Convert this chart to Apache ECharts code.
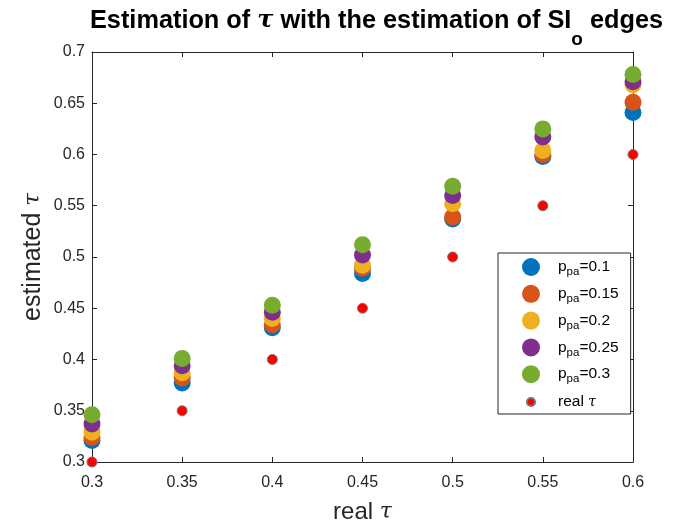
<!DOCTYPE html>
<html>
<head>
<meta charset="utf-8">
<script src="https://cdn.jsdelivr.net/npm/echarts@6/dist/echarts.min.js"></script>
<style>
  html, body { margin: 0; padding: 0; background: #fff; }
  #chart { width: 700px; height: 525px; }
</style>
</head>
<body>
<div id="chart"></div>
<script>
// real tau on the x axis
var realTau = [0.3, 0.35, 0.4, 0.45, 0.5, 0.55, 0.6];
// estimated tau, one list per p_pa
var ppa01  = [0.321, 0.377, 0.431, 0.484, 0.537, 0.598, 0.641];
var ppa015 = [0.324, 0.382, 0.434, 0.489, 0.539, 0.600, 0.651];
var ppa02  = [0.329, 0.387, 0.440, 0.492, 0.552, 0.604, 0.668];
var ppa025 = [0.337, 0.394, 0.446, 0.502, 0.560, 0.617, 0.671];
var ppa03  = [0.346, 0.401, 0.453, 0.512, 0.569, 0.625, 0.678];
var ppaLabels = ['0.1', '0.15', '0.2', '0.25', '0.3'];
var xTicks = [0.3, 0.35, 0.4, 0.45, 0.5, 0.55, 0.6];
var yTicks = [0.3, 0.35, 0.4, 0.45, 0.5, 0.55, 0.6, 0.65, 0.7];

var colors = ['#0072BD', '#D95319', '#EDB120', '#7E2F8E', '#77AC30'];
var axisColor = '#262626';
var tauFont = 'DejaVu Serif';

function pairs(xs, ys) {
    var out = [];
    for (var i = 0; i < xs.length; i++) {
        out.push([xs[i], ys[i]]);
    }
    return out;
}

var estimates = [ppa01, ppa015, ppa02, ppa025, ppa03];
var series = [];
for (var k = 0; k < estimates.length; k++) {
    series.push({
        name: 'p_pa=' + ppaLabels[k],
        type: 'scatter',
        symbol: 'circle',
        symbolSize: 17,
        itemStyle: { color: colors[k], opacity: 1 },
        data: pairs(realTau, estimates[k]),
        z: 2 + k
    });
}
series.push({
    name: 'real tau',
    type: 'scatter',
    symbol: 'circle',
    symbolSize: 10,
    itemStyle: { color: '#ff0000', borderColor: '#777777', borderWidth: 1, opacity: 1 },
    data: pairs(realTau, realTau),
    z: 10
});

// small circle inside a square box, so the legend draws it smaller
var smallDot = 'path://M0,0M40,40M20,11A9,9,0,1,1,19.99,11Z';

var legendData = [];
for (var j = 0; j < ppaLabels.length; j++) {
    legendData.push({ name: 'p_pa=' + ppaLabels[j], icon: 'circle' });
}
legendData.push({ name: 'real tau', icon: smallDot });

function baseAxis(pos, min, max, interval) {
    return {
        type: 'value',
        position: pos,
        min: min,
        max: max,
        interval: interval,
        axisLine: { show: true, onZero: false, lineStyle: { color: axisColor, width: 1 } },
        axisTick: { show: true, inside: true, length: 5, lineStyle: { color: axisColor } },
        splitLine: { show: false },
        axisLabel: { show: false }
    };
}

var xBottom = baseAxis('bottom', xTicks[0], xTicks[xTicks.length - 1], 0.05);
xBottom.axisLabel = {
    show: true, color: axisColor, fontSize: 16, fontFamily: 'Liberation Sans', margin: 13,
    formatter: function (v) { return String(+v.toFixed(2)); }
};
xBottom.name = '{a|real }{t|τ}';
xBottom.nameLocation = 'middle';
xBottom.nameGap = 38;
xBottom.nameMoveOverlap = false;
xBottom.nameTextStyle = {
    rich: {
        a: { fontSize: 24, color: axisColor, fontFamily: 'Liberation Sans' },
        t: { fontSize: 22, color: axisColor, fontFamily: tauFont, fontStyle: 'italic' }
    }
};
var xTop = baseAxis('top', xTicks[0], xTicks[xTicks.length - 1], 0.05);

var yLeft = baseAxis('left', yTicks[0], yTicks[yTicks.length - 1], 0.05);
yLeft.axisLabel = {
    show: true, color: axisColor, fontSize: 16, fontFamily: 'Liberation Sans', margin: 7,
    formatter: function (v) { return String(+v.toFixed(2)); }
};
yLeft.name = '{a|estimated }{t|τ}';
yLeft.nameLocation = 'middle';
yLeft.nameGap = 46;
yLeft.nameMoveOverlap = false;
yLeft.nameTextStyle = {
    rich: {
        a: { fontSize: 25, color: axisColor, fontFamily: 'Liberation Sans' },
        t: { fontSize: 23, color: axisColor, fontFamily: tauFont, fontStyle: 'italic' }
    }
};
var yRight = baseAxis('right', yTicks[0], yTicks[yTicks.length - 1], 0.05);

var option = {
    animation: false,
    backgroundColor: '#ffffff',
    title: {
        text: '{b|Estimation of }{t|τ}{b| with the estimation of SI}{s|o}{b| edges}',
        left: 85,
        top: -12,
        textStyle: {
            rich: {
                b: { fontSize: 25.3, fontWeight: 'bold', color: '#000', fontFamily: 'Liberation Sans', lineHeight: 56, verticalAlign: 'middle' },
                t: { fontSize: 24, color: '#000', fontFamily: tauFont, fontStyle: 'italic', lineHeight: 56, verticalAlign: 'middle' },
                s: { fontSize: 19, fontWeight: 'bold', color: '#000', fontFamily: 'Liberation Sans', lineHeight: 6, verticalAlign: 'bottom' }
            }
        }
    },
    grid: { left: 92, right: 67, top: 52, bottom: 63, containLabel: false, outerBoundsMode: 'none' },
    legend: {
        orient: 'vertical',
        left: 498,
        top: 253,
        data: legendData,
        itemWidth: 44,
        itemHeight: 18,
        itemGap: 6.8,
        padding: [5, 12, 2, 23],
        borderColor: '#262626',
        borderWidth: 1,
        backgroundColor: '#ffffff',
        selectedMode: false,
        formatter: function (name) {
            if (name === 'real tau') {
                return '{m|real }{t|τ}';
            }
            return '{m|p}{s|pa}{m|=' + name.split('=')[1] + '}';
        },
        textStyle: {
            rich: {
                m: { fontSize: 15.5, color: '#000', fontFamily: 'Liberation Sans', lineHeight: 22, verticalAlign: 'middle' },
                s: { fontSize: 11.5, color: '#000', fontFamily: 'Liberation Sans', lineHeight: 10, verticalAlign: 'bottom' },
                t: { fontSize: 14, color: '#000', fontFamily: tauFont, fontStyle: 'italic', lineHeight: 22, verticalAlign: 'middle' }
            }
        }
    },
    xAxis: [xBottom, xTop],
    yAxis: [yLeft, yRight],
    series: series
};

var myChart = echarts.init(document.getElementById('chart'));
myChart.setOption(option);
</script>
</body>
</html>
